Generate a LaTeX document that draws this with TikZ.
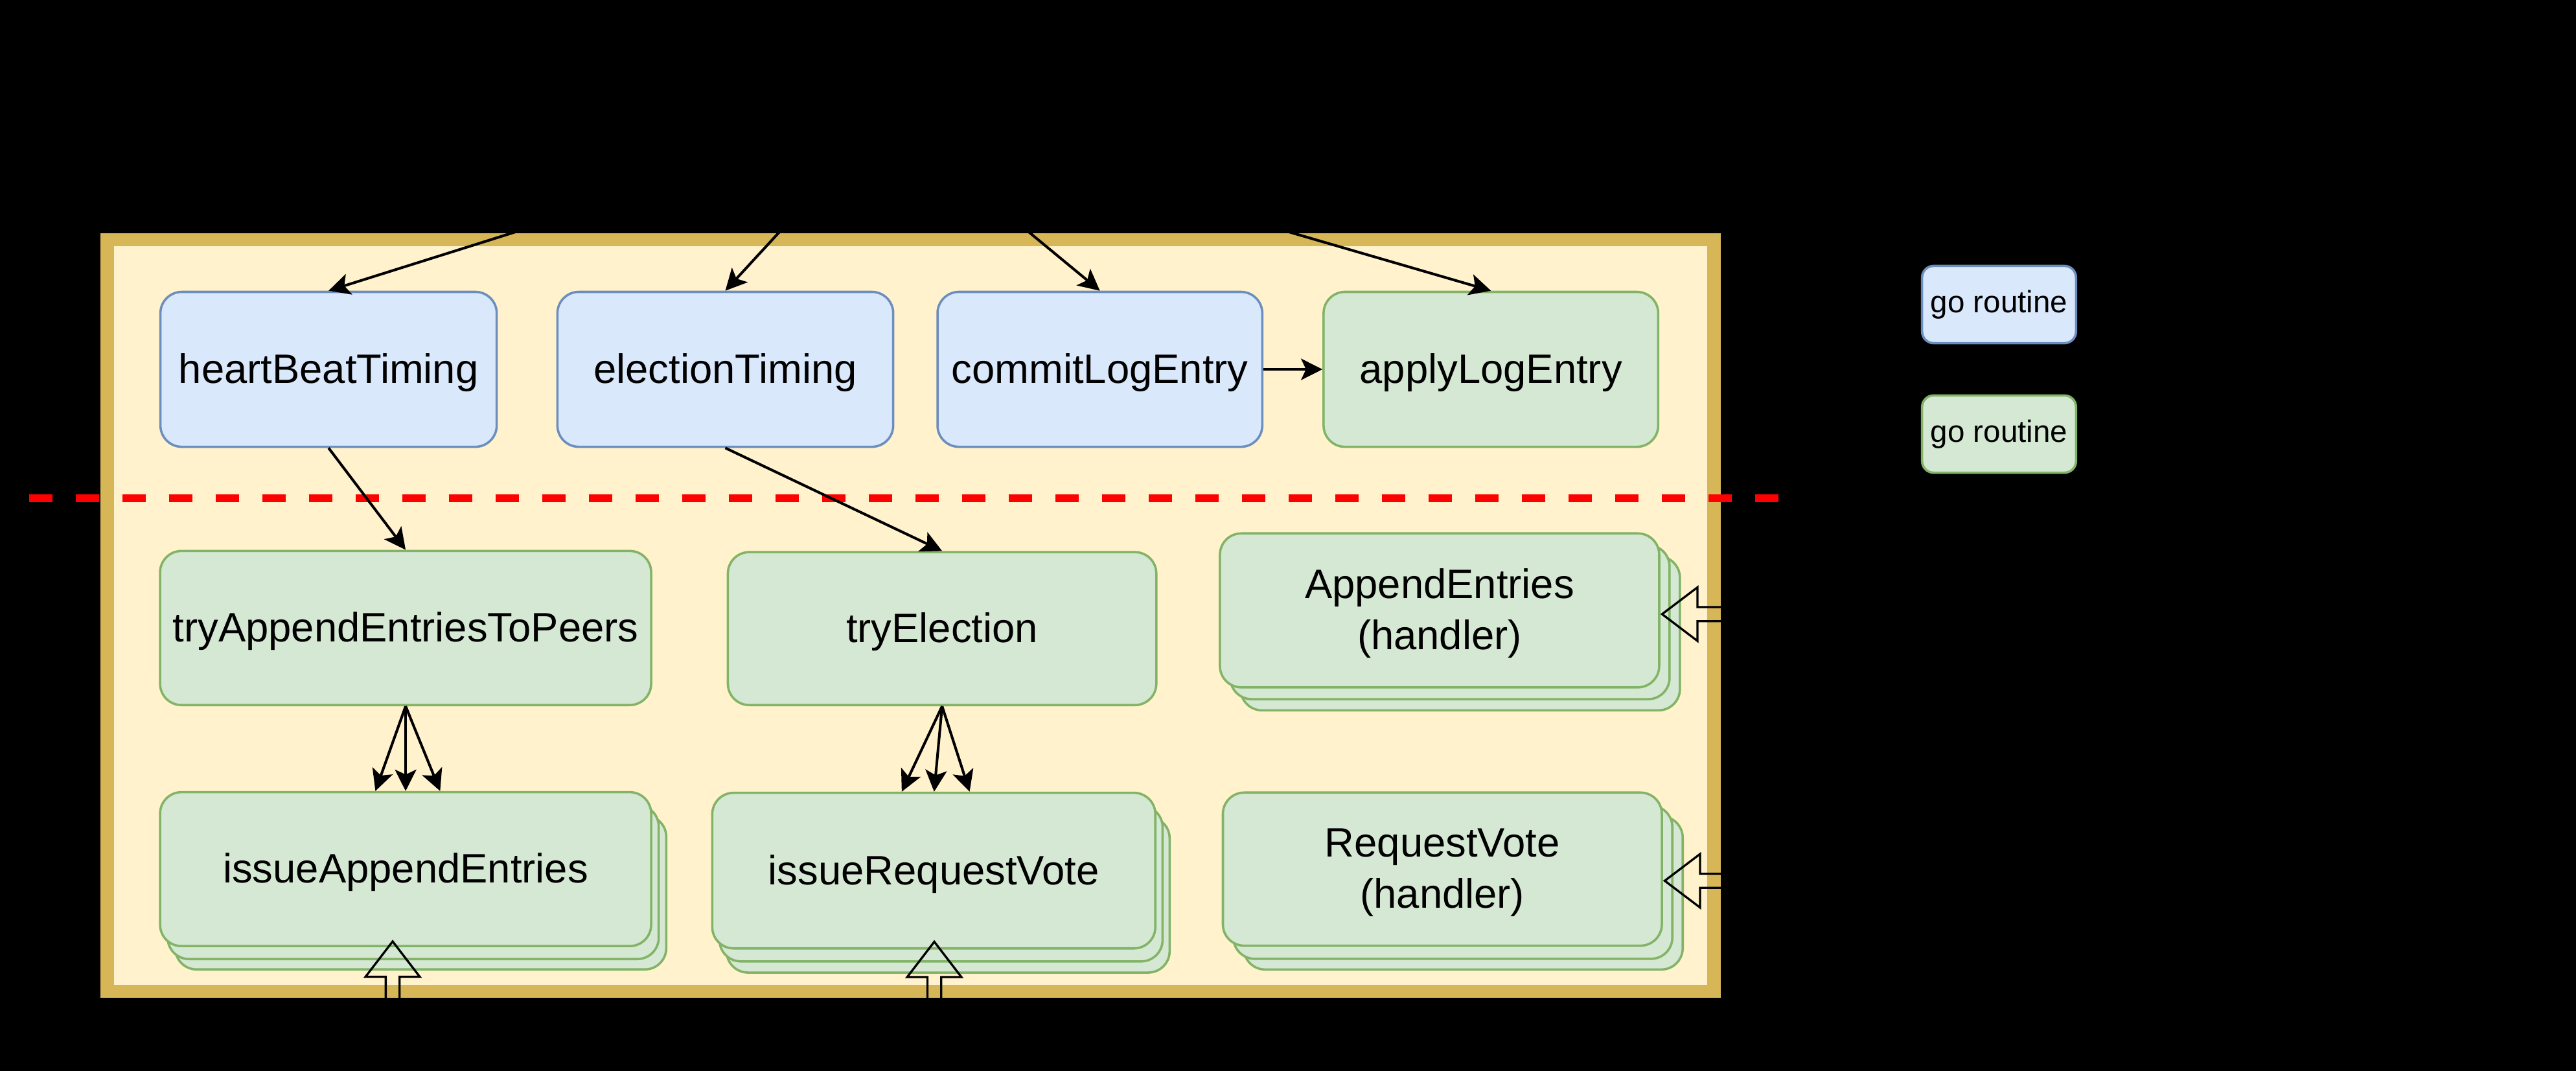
\documentclass[tikz,border=0pt]{standalone}
\usepackage{fontspec}
\setmainfont{Liberation Sans}
\usetikzlibrary{arrows.meta}
\definecolor{bfill}{HTML}{DAE8FC}
\definecolor{bline}{HTML}{6C8EBF}
\definecolor{gfill}{HTML}{D5E8D4}
\definecolor{gline}{HTML}{82B366}
\definecolor{yfill}{HTML}{FFF2CC}
\definecolor{yline}{HTML}{D6B656}
\definecolor{dashred}{HTML}{FF0000}
\tikzset{
  box/.style={rectangle, rounded corners=13pt, line width=1.4pt, inner sep=0pt, align=center,
    font=\fontsize{25}{31}\selectfont, text height=22pt, text depth=5pt},
  twoline/.style={text height=52.4pt, text depth=5pt},
  bluebox/.style={box, fill=bfill, draw=bline},
  greenbox/.style={box, fill=gfill, draw=gline},
  legendbox/.style={rectangle, rounded corners=7pt, line width=1.4pt, inner sep=0pt,
    minimum width=93.7pt, minimum height=47pt, font=\fontsize{18.75}{22}\selectfont,
    text height=14pt, text depth=3.9pt},
  framebox/.style={rectangle, draw=yline, fill=yfill, line width=8pt, line join=miter, inner sep=0pt},
  divider/.style={draw=dashred, line width=4.7pt, dash pattern=on 14.2pt off 14.2pt},
  conn/.style={draw=black, line width=1.6pt, -{Stealth[length=13pt,width=13pt,inset=3pt]}},
  hollow/.style={draw=black, line width=1.3pt, fill=none, line join=miter},
}
\begin{document}
\begin{tikzpicture}[x=1pt,y=-1pt]
  \useasboundingbox (0,0) rectangle (1568,651.5);
  \fill[black] (-10,-10) rectangle (1578,661.5);

  % outer frame
  \node[framebox, minimum width=978pt, minimum height=457.3pt] (frame) at (554.3,374.65) {};

  % divider
  \coordinate (dashL) at (17.7,303.3);
  \coordinate (dashR) at (1082.7,303.3);
  \draw[divider] (dashL) -- (dashR);

  % top row
  \node[bluebox, minimum width=204.7pt, minimum height=94.3pt] (hb) at (200,224.8) {heartBeatTiming};
  \node[bluebox, minimum width=204.4pt, minimum height=94.3pt] (et) at (441.5,224.8) {electionTiming};
  \node[bluebox, minimum width=197.7pt, minimum height=94.3pt] (cl) at (669.5,224.8) {commitLogEntry};
  \node[greenbox, minimum width=203.7pt, minimum height=94.3pt] (al) at (907.5,224.8) {applyLogEntry};

  % middle row
  \node[greenbox, minimum width=298.9pt, minimum height=93.8pt] (tae) at (246.9,382.25) {tryAppendEntriesToPeers};
  \node[greenbox, minimum width=260.8pt, minimum height=93.1pt] (te) at (573.45,382.6) {tryElection};

  \node[greenbox, minimum width=267.4pt, minimum height=93.7pt] (ae3) at (888.85,385.5) {};
  \node[greenbox, minimum width=267.4pt, minimum height=93.7pt] (ae2) at (882.55,378.7) {};
  \node[greenbox, twoline, minimum width=267.4pt, minimum height=93.7pt] (ae) at (876.25,371.5) {AppendEntries\\(handler)};

  % bottom row
  \node[greenbox, minimum width=298.9pt, minimum height=93.7pt] (iae3) at (256.1,543.2) {};
  \node[greenbox, minimum width=298.9pt, minimum height=93.7pt] (iae2) at (251.5,536.9) {};
  \node[greenbox, minimum width=298.9pt, minimum height=93.7pt] (iae) at (246.9,529) {issueAppendEntries};

  \node[greenbox, minimum width=269.7pt, minimum height=94.7pt] (irv3) at (577.1,544.6) {};
  \node[greenbox, minimum width=269.7pt, minimum height=94.7pt] (irv2) at (572.8,537.8) {};
  \node[greenbox, minimum width=269.7pt, minimum height=94.7pt] (irv) at (568.4,529.9) {issueRequestVote};

  \node[greenbox, minimum width=267.2pt, minimum height=93.2pt] (rv3) at (890.65,543.5) {};
  \node[greenbox, minimum width=267.2pt, minimum height=93.2pt] (rv2) at (884.35,537) {};
  \node[greenbox, twoline, minimum width=267.2pt, minimum height=93.2pt] (rv) at (877.95,529) {RequestVote\\(handler)};

  % legend
  \node[legendbox, fill=bfill, draw=bline] (lg1) at (1216.8,185.35) {go routine};
  \node[legendbox, fill=gfill, draw=gline] (lg2) at (1216.8,264.2) {go routine};

  % connectors from above (source hidden on black)
  \coordinate (src) at (540,70);
  \draw[conn] (src) -- (hb.north);
  \draw[conn] (src) -- (et.north);
  \draw[conn] (src) -- (cl.north);
  \draw[conn] (src) -- (al.north);

  \draw[conn] (cl.east) -- (al.west);
  \draw[conn] (hb.south) -- (tae.north);
  \draw[conn] (et.south) -- (te.north);

  \draw[conn] (tae.south) -- ([xshift=-18.4pt]iae.north);
  \draw[conn] (tae.south) -- (iae.north);
  \draw[conn] (tae.south) -- ([xshift=21pt]iae.north);

  \draw[conn] (te.south) -- ([xshift=-19.5pt]irv.north);
  \draw[conn] (te.south) -- ([xshift=0.2pt]irv.north);
  \draw[conn] (te.south) -- ([xshift=21.8pt]irv.north);

  % hollow arrows (incoming RPCs)
  \coordinate (tipA) at (239,573);
  \coordinate (tipB) at (568.7,573.2);
  \coordinate (tipC) at (1011.7,373.8);
  \coordinate (tipD) at (1013.3,536.1);
  \draw[hollow] (tipA) -- ++(16.5,21.5) -- ++(-12.3,0) -- ++(0,40) -- ++(-8.4,0) -- ++(0,-40) -- ++(-12.3,0) -- cycle;
  \draw[hollow] (tipB) -- ++(16.5,21.5) -- ++(-12.3,0) -- ++(0,40) -- ++(-8.4,0) -- ++(0,-40) -- ++(-12.3,0) -- cycle;
  \draw[hollow] (tipC) -- ++(21.5,-16.3) -- ++(0,12) -- ++(50,0) -- ++(0,8.6) -- ++(-50,0) -- ++(0,12) -- cycle;
  \draw[hollow] (tipD) -- ++(21.5,-16.3) -- ++(0,12) -- ++(50,0) -- ++(0,8.6) -- ++(-50,0) -- ++(0,12) -- cycle;
\end{tikzpicture}
\end{document}
